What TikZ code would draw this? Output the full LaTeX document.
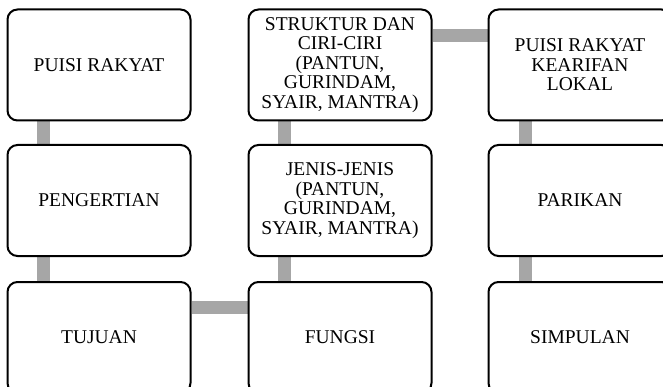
\documentclass[tikz,border=0pt]{standalone}
\usepackage{fontspec}
\setmainfont{Liberation Serif}
\usetikzlibrary{backgrounds}
\definecolor{barcol}{HTML}{A6A6A6}
\tikzset{
    box/.style={draw, line width=2pt, rounded corners=10pt, fill=white,
        minimum width=183pt, minimum height=111pt, inner sep=2pt,
        align=center, font=\fontsize{19.5}{19.5}\selectfont},
    bar/.style={draw=barcol, line width=13pt}
}

\begin{document}
\begin{tikzpicture}[x=1pt,y=-1pt]
	    \clip (0,0) rectangle (663,387);
	    \node[box] (pr) at (99,65) {PUISI RAKYAT};
	    \node[box] (pg) at (99,200.5) {PENGERTIAN};
	    \node[box] (tj) at (99,337.5) {TUJUAN};
	    \node[box] (fg) at (340,337.5) {FUNGSI};
	    \node[box] (js) at (340,200.5) {JENIS-JENIS\\(PANTUN,\\GURINDAM,\\SYAIR, MANTRA)};
	    \node[box] (sc) at (340,65) {STRUKTUR DAN\\CIRI-CIRI\\(PANTUN,\\GURINDAM,\\SYAIR, MANTRA)};
	    \node[box] (kl) at (580,65) {PUISI RAKYAT\\KEARIFAN\\LOKAL};
	    \node[box] (pk) at (580,200.5) {PARIKAN};
	    \node[box] (sp) at (580,337.5) {SIMPULAN};
	    \begin{scope}[on background layer]
		      \draw[bar] ([xshift=37pt]pr.south west) -- ([xshift=37pt]pg.north west);
		      \draw[bar] ([xshift=37pt]pg.south west) -- ([xshift=37pt]tj.north west);
		      \draw[bar] ([yshift=-26pt]tj.north east) -- ([yshift=-26pt]fg.north west);
		      \draw[bar] ([xshift=37pt]fg.north west) -- ([xshift=37pt]js.south west);
		      \draw[bar] ([xshift=37pt]js.north west) -- ([xshift=37pt]sc.south west);
		      \draw[bar] ([yshift=-27pt]sc.north east) -- ([yshift=-27pt]kl.north west);
		      \draw[bar] ([xshift=38pt]kl.south west) -- ([xshift=38pt]pk.north west);
		      \draw[bar] ([xshift=38pt]pk.south west) -- ([xshift=38pt]sp.north west);
	    \end{scope}
	\end{tikzpicture}
\end{document}
